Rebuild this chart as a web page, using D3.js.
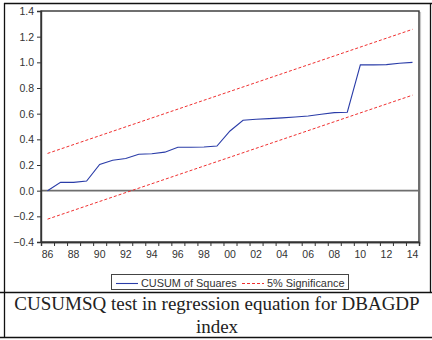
<!DOCTYPE html>
<html>
<head>
<meta charset="utf-8">
<script src="https://cdn.jsdelivr.net/npm/d3@7"></script>
<style>
html,body{margin:0;padding:0;background:#fff;}
svg{display:block;}
</style>
</head>
<body>
<svg id="chart" width="432" height="340"></svg>
<script>
// ---- data ----
const years = [1986,1987,1988,1989,1990,1991,1992,1993,1994,1995,1996,1997,1998,1999,2000,
               2001,2002,2003,2004,2005,2006,2007,2008,2009,2010,2011,2012,2013,2014];
const cusumsq = [0.000,0.065,0.065,0.075,0.205,0.237,0.250,0.284,0.288,0.300,0.338,0.338,0.340,0.348,0.465,
                 0.549,0.556,0.561,0.567,0.574,0.582,0.595,0.608,0.611,0.980,0.980,0.982,0.993,1.000];
const boundYears = [1986, 2014];
const upperBound = [0.290, 1.257];
const lowerBound = [-0.222, 0.744];
const yTicks = [-0.4,-0.2,0.0,0.2,0.4,0.6,0.8,1.0,1.2,1.4];
const xTickYears = [1986,1988,1990,1992,1994,1996,1998,2000,2002,2004,2006,2008,2010,2012,2014];
const legendLabels = ["CUSUM of Squares","5% Significance"];
const captionLines = ["CUSUMSQ test in regression equation for DBAGDP","index"];

const svg = d3.select("#chart");
const pL = 41, pR = 419, pT = 11, pB = 242;
const x = d3.scaleLinear().domain([1985.5, 2014.5]).range([pL, pR]);
const y = d3.scaleLinear().domain([-0.4, 1.4]).range([pB, pT]);
const font = "'Liberation Sans', Arial, sans-serif";

// outer frame lines
const frame = svg.append("g").attr("stroke","#111").attr("stroke-width",1.3).attr("fill","none");
frame.append("line").attr("x1",4).attr("x2",432).attr("y1",3.5).attr("y2",3.5);
frame.append("line").attr("x1",4.5).attr("x2",4.5).attr("y1",3).attr("y2",338);
frame.append("line").attr("x1",430.5).attr("x2",430.5).attr("y1",3).attr("y2",292);
frame.append("line").attr("x1",0).attr("x2",432).attr("y1",292.5).attr("y2",292.5);
frame.append("line").attr("x1",0).attr("x2",432).attr("y1",337.5).attr("y2",337.5);

// plot shadow + box
svg.append("rect").attr("x",pL+1.5).attr("y",pT+1.5).attr("width",pR-pL).attr("height",pB-pT)
  .attr("fill","none").attr("stroke","#c8c8c8").attr("stroke-width",1.2);
svg.append("rect").attr("x",pL).attr("y",pT).attr("width",pR-pL).attr("height",pB-pT)
  .attr("fill","#fff").attr("stroke","#333").attr("stroke-width",1.4);

// zero line
svg.append("line").attr("x1",pL).attr("x2",pR).attr("y1",y(0)).attr("y2",y(0))
  .attr("stroke","#6e6e6e").attr("stroke-width",1.8);

// y axis
const yAxis = d3.axisLeft(y).tickValues(yTicks).tickFormat(d3.format(".1f")).tickSize(4).tickPadding(3);
const gy = svg.append("g").attr("transform",`translate(${pL},0)`).call(yAxis);
gy.select(".domain").attr("stroke","#333").attr("stroke-width",1.4);
gy.selectAll(".tick line").attr("stroke","#333");
gy.selectAll(".tick text").attr("font-family",font).attr("font-size","10.5px").attr("fill","#333");

// x axis: ticks on year boundaries, labels centered on years
const boundaries = d3.range(1985.5, 2015, 1);
const gx = svg.append("g").attr("transform",`translate(0,${pB})`);
gx.call(d3.axisBottom(x).tickValues(boundaries).tickSize(4).tickFormat(""));
gx.select(".domain").attr("stroke","#333").attr("stroke-width",1.4);
gx.selectAll(".tick line").attr("stroke","#333");
gx.selectAll("text.lbl").data(xTickYears).join("text").attr("class","lbl")
  .attr("x", d => x(d)).attr("y", 15.5).attr("text-anchor","middle")
  .attr("font-family",font).attr("font-size","10.5px").attr("fill","#333")
  .text(d => String(d % 100).padStart(2,"0"));

// bounds
const bline = d3.line().x((d,i)=>x(boundYears[i])).y(d=>y(d));
[upperBound, lowerBound].forEach(b => {
  svg.append("path").attr("d", bline(b)).attr("fill","none")
    .attr("stroke","#f03030").attr("stroke-width",1).attr("stroke-dasharray","3,2");
});

// cusumsq line
const line = d3.line().x((d,i)=>x(years[i])).y(d=>y(d));
svg.append("path").attr("d", line(cusumsq)).attr("fill","none")
  .attr("stroke","#2a3ca8").attr("stroke-width",1.1);

// legend
const lg = svg.append("g");
lg.append("rect").attr("x",111.5).attr("y",274.5).attr("width",237).attr("height",15)
  .attr("fill","#fff").attr("stroke","#444").attr("stroke-width",1);
lg.append("line").attr("x1",116).attr("x2",138).attr("y1",283.5).attr("y2",283.5)
  .attr("stroke","#2a3ca8").attr("stroke-width",1.1);
lg.append("text").attr("x",141).attr("y",286.8).attr("font-family",font).attr("font-size","10.9px")
  .attr("fill","#333").text(legendLabels[0]);
lg.append("line").attr("x1",242).attr("x2",264).attr("y1",283.5).attr("y2",283.5)
  .attr("stroke","#f03030").attr("stroke-width",1).attr("stroke-dasharray","3,2");
lg.append("text").attr("x",267).attr("y",286.8).attr("font-family",font).attr("font-size","10.9px")
  .attr("fill","#333").text(legendLabels[1]);

// caption
svg.selectAll("text.cap").data(captionLines).join("text").attr("class","cap")
  .attr("x",217).attr("y",(d,i)=>309.5 + i*23.3).attr("text-anchor","middle")
  .attr("font-family","'Liberation Serif','Times New Roman',serif").attr("font-size","19px")
  .attr("fill","#222").text(d=>d);
</script>
</body>
</html>
